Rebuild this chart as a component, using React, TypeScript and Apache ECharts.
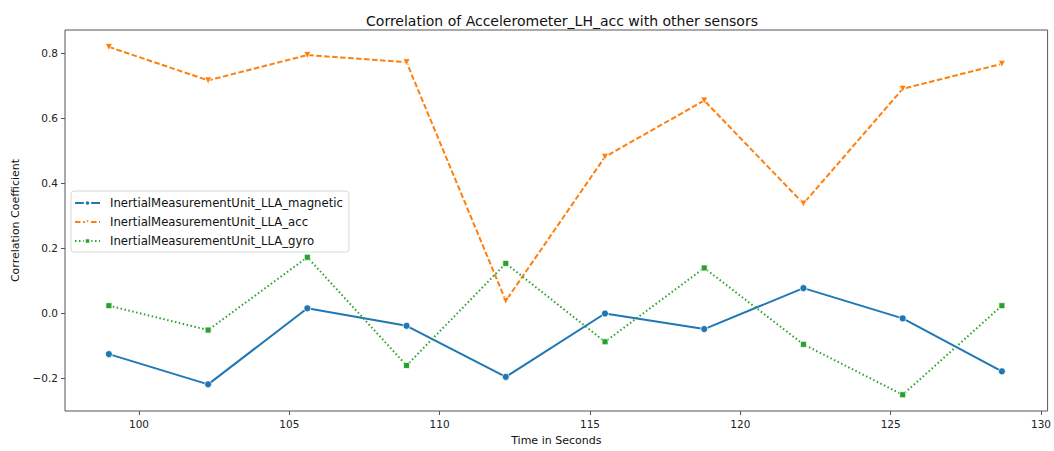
import React, { useEffect, useRef } from "react";
import * as echarts from "echarts";

// Window start times (seconds)
const times = [99.0, 102.3, 105.6, 108.9, 112.2, 115.5, 118.8, 122.1, 125.4, 128.7];

// Correlation of Accelerometer_LH_acc with each IMU sensor
const magnetic = [-0.125, -0.218, 0.016, -0.038, -0.195, 0.000, -0.048, 0.078, -0.015, -0.178];
const acc = [0.820, 0.717, 0.795, 0.773, 0.039, 0.482, 0.655, 0.338, 0.691, 0.768];
const gyro = [0.024, -0.051, 0.173, -0.160, 0.154, -0.087, 0.140, -0.095, -0.250, 0.024];

const xTicks = [100, 105, 110, 115, 120, 125, 130];
const yTicks = [-0.2, 0, 0.2, 0.4, 0.6, 0.8];

const FONT = "DejaVu Sans";

export default function App() {
  const ref = useRef<HTMLDivElement>(null);

  useEffect(() => {
    if (!ref.current) return;
    const chart = echarts.init(ref.current, undefined, { renderer: "svg" });

    const pair = (ys: number[]) => times.map((t, i) => [t, ys[i]]);

    chart.setOption({
      animation: false,
      backgroundColor: "#ffffff",
      textStyle: { fontFamily: FONT },
      title: {
        text: "Correlation of Accelerometer_LH_acc with other sensors",
        left: 557,
        textAlign: "center",
        top: 9,
        textStyle: { fontFamily: FONT, fontSize: 14, fontWeight: "normal", color: "#111" },
      },
      grid: {
        left: 65,
        right: 5,
        top: 30,
        bottom: 39,
        show: true,
        borderColor: "#555",
        borderWidth: 1,
        containLabel: false,
      },
      legend: {
        orient: "vertical",
        left: 71,
        top: 191,
        itemWidth: 25,
        itemHeight: 7,
        itemGap: 5,
        padding: [5, 6, 4, 3],
        borderColor: "#d8d8d8",
        borderWidth: 1,
        borderRadius: 3,
        backgroundColor: "rgba(255,255,255,0.8)",
        textStyle: {
          fontFamily: FONT,
          fontSize: 11.7,
          lineHeight: 14,
          color: "#111",
          padding: [0, 0, 0, 5],
        },
        data: [
          "InertialMeasurementUnit_LLA_magnetic",
          "InertialMeasurementUnit_LLA_acc",
          "InertialMeasurementUnit_LLA_gyro",
        ],
      },
      xAxis: {
        type: "value",
        min: 97.54,
        max: 130.22,
        name: "Time in Seconds",
        nameLocation: "middle",
        nameGap: 24,
        nameTextStyle: { fontFamily: FONT, fontSize: 11, color: "#111" },
        axisLine: { show: false, onZero: false },
        splitLine: { show: false },
        axisTick: {
          show: true,
          length: 4,
          customValues: xTicks,
          lineStyle: { color: "#555" },
        },
        axisLabel: {
          customValues: xTicks,
          margin: 7,
          fontFamily: FONT,
          fontSize: 10.5,
          color: "#222",
        },
      },
      yAxis: {
        type: "value",
        min: -0.3,
        max: 0.872,
        name: "Correlation Coefficient",
        nameLocation: "middle",
        nameGap: 44,
        nameTextStyle: { fontFamily: FONT, fontSize: 11, color: "#111" },
        axisLine: { show: false, onZero: false },
        splitLine: { show: false },
        axisTick: {
          show: true,
          length: 4,
          customValues: yTicks,
          lineStyle: { color: "#555" },
        },
        axisLabel: {
          customValues: yTicks,
          margin: 7,
          fontFamily: FONT,
          fontSize: 10.5,
          color: "#222",
          formatter: (v: number) => (v < 0 ? "\u2212" + Math.abs(v).toFixed(1) : v.toFixed(1)),
        },
      },
      series: [
        {
          type: "line",
          name: "InertialMeasurementUnit_LLA_magnetic",
          data: pair(magnetic),
          symbol: "circle",
          symbolSize: 7,
          lineStyle: { color: "#1f77b4", width: 2, type: "solid" },
          itemStyle: { color: "#1f77b4", borderColor: "#ffffff", borderWidth: 0.75 },
        },
        {
          type: "line",
          name: "InertialMeasurementUnit_LLA_acc",
          data: pair(acc),
          symbol: "triangle",
          symbolRotate: 180,
          symbolSize: 7,
          lineStyle: { color: "#ff7f0e", width: 2, type: [5.5, 2.5], cap: "butt" },
          itemStyle: { color: "#ff7f0e", borderColor: "#ffffff", borderWidth: 0.75 },
        },
        {
          type: "line",
          name: "InertialMeasurementUnit_LLA_gyro",
          data: pair(gyro),
          symbol: "rect",
          symbolSize: 6,
          lineStyle: { color: "#2ca02c", width: 2, type: [1.5, 2.5], cap: "butt" },
          itemStyle: { color: "#2ca02c", borderColor: "#ffffff", borderWidth: 0.75 },
        },
      ],
    });

    return () => chart.dispose();
  }, []);

  return (
    <div
      ref={ref}
      style={{ position: "fixed", left: 0, top: 0, width: 1054, height: 451 }}
    />
  );
}
